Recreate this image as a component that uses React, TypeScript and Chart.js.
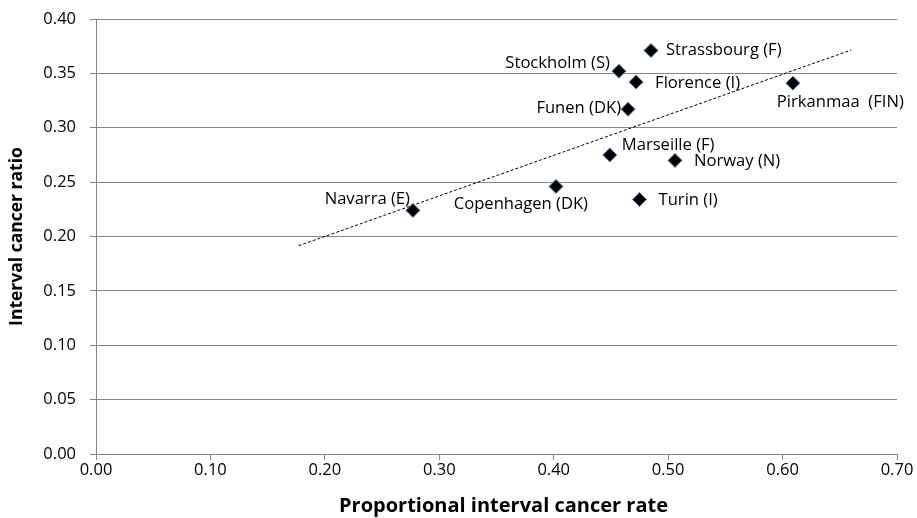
import React, { useEffect, useRef } from "react";
import { Chart, registerables } from "chart.js";

Chart.register(...registerables);

const regions = [
  "Navarra (E)",
  "Copenhagen (DK)",
  "Marseille (F)",
  "Turin (I)",
  "Norway (N)",
  "Funen (DK)",
  "Florence (I)",
  "Stockholm (S)",
  "Strassbourg (F)",
  "Pirkanmaa  (FIN)",
];
const proportionalRate = [0.277, 0.402, 0.449, 0.475, 0.506, 0.465, 0.472, 0.457, 0.485, 0.609];
const intervalRatio = [0.224, 0.246, 0.275, 0.234, 0.270, 0.317, 0.342, 0.352, 0.371, 0.341];

const trendX = [0.177, 0.66];
const trendY = [0.1915, 0.3715];

const xTicks = [0, 0.1, 0.2, 0.3, 0.4, 0.5, 0.6, 0.7];
const yTicks = [0, 0.05, 0.1, 0.15, 0.2, 0.25, 0.3, 0.35, 0.4];

const xTitle = "Proportional interval cancer rate";
const yTitle = "Interval cancer ratio";

// label placement relative to each point (pixels): [align, dx, dy]
const labelPlacement: [CanvasTextAlign, number, number][] = [
  ["right", -3, -11],
  ["right", 32, 18],
  ["left", 12, -10],
  ["left", 19, 1],
  ["left", 19, 1],
  ["right", -7, -1],
  ["left", 19, 1],
  ["right", -9, -8],
  ["left", 15, 0],
  ["left", -16, 19],
];

const FONT = "'Open Sans', 'Noto Sans', sans-serif";

export default function App() {
  const ref = useRef<HTMLCanvasElement | null>(null);
  useEffect(() => {
    if (!ref.current) return;
    const labelPlugin = {
      id: "pointLabels",
      afterDatasetsDraw(chart: any) {
        const ctx = chart.ctx;
        const meta = chart.getDatasetMeta(1);
        ctx.save();
        ctx.font = `16.6px ${FONT}`;
        ctx.fillStyle = "#000";
        ctx.textBaseline = "middle";
        meta.data.forEach((el: any, i: number) => {
          const [align, dx, dy] = labelPlacement[i];
          ctx.textAlign = align;
          ctx.fillText(regions[i], el.x + dx, el.y + dy);
        });
        // x axis title
        const area = chart.chartArea;
        ctx.font = `bold 20px ${FONT}`;
        ctx.textAlign = "center";
        ctx.fillText(xTitle, (area.left + area.right) / 2 + 7, 506);
        ctx.restore();
      },
    };
    const chart = new Chart(ref.current, {
      type: "scatter",
      data: {
        datasets: [
          {
            type: "line",
            label: "Trend",
            data: trendX.map((x, i) => ({ x, y: trendY[i] })),
            borderColor: "#000",
            borderWidth: 1,
            borderDash: [3, 2],
            pointRadius: 0,
            fill: false,
            order: 2,
          } as any,
          {
            label: "Regions",
            data: proportionalRate.map((x, i) => ({ x, y: intervalRatio[i] })),
            pointStyle: "rectRot",
            pointRadius: 7,
            pointHoverRadius: 7,
            backgroundColor: "#000",
            borderColor: "#4F81BD",
            borderWidth: 1,
            order: 1,
          },
        ],
      },
      options: {
        animation: false,
        responsive: false,
        maintainAspectRatio: false,
        events: [],
        layout: { padding: { top: 19, right: 20, left: 0, bottom: 0 } },
        plugins: { legend: { display: false }, tooltip: { enabled: false } },
        scales: {
          x: {
            type: "linear",
            min: 0,
            max: 0.7,
            afterBuildTicks: (s: any) => {
              s.ticks = xTicks.map((v) => ({ value: v }));
            },
            afterFit: (s: any) => {
              s.height = 64;
            },
            grid: {
              drawOnChartArea: false,
              drawTicks: true,
              tickLength: 6,
              color: "#868686",
            },
            border: { display: true, color: "#868686", width: 1 },
            ticks: {
              color: "#000",
              font: { family: FONT, size: 16.5 },
              padding: 0,
              callback: (v: any) => Number(v).toFixed(2),
            },
          },
          y: {
            type: "linear",
            min: 0,
            max: 0.4,
            afterBuildTicks: (s: any) => {
              s.ticks = yTicks.map((v) => ({ value: v }));
            },
            afterFit: (s: any) => {
              s.width = 96;
              s.paddingTop = 0;
              s.paddingBottom = 0;
            },
            grid: {
              drawOnChartArea: true,
              drawTicks: true,
              tickLength: 6,
              color: "#868686",
            },
            border: { display: true, color: "#868686", width: 1 },
            ticks: {
              color: "#000",
              font: { family: FONT, size: 16.5 },
              padding: 14,
              callback: (v: any) => Number(v).toFixed(2),
            },
            title: {
              display: true,
              text: yTitle,
              color: "#000",
              font: { family: FONT, size: 17.5, weight: "bold" },
              padding: { top: 7, bottom: 0 },
            },
          },
        },
      },
      plugins: [labelPlugin],
    });
    return () => chart.destroy();
  }, []);
  return (
    <div style={{ position: "fixed", left: 0, top: 0, width: 917, height: 518, background: "#fff" }}>
      <canvas ref={ref} width={917} height={518} style={{ width: 917, height: 518 }} />
    </div>
  );
}
